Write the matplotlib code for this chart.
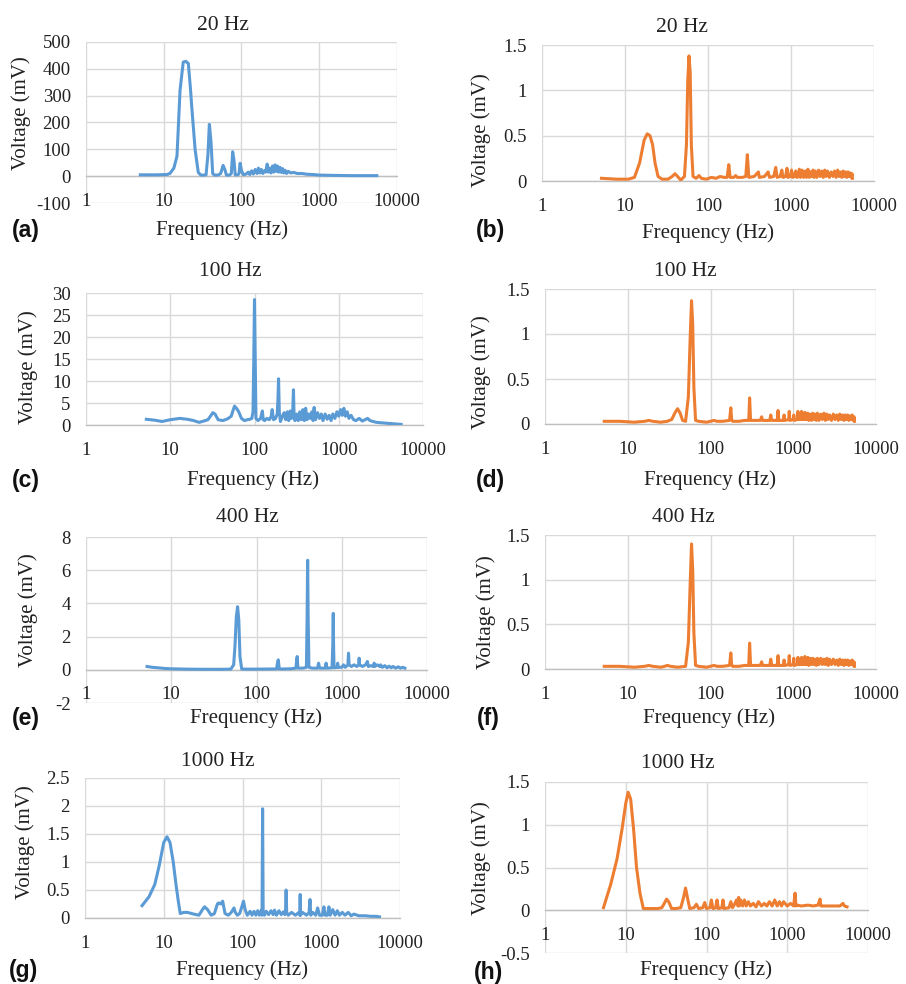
import matplotlib
matplotlib.use("Agg")
import matplotlib.pyplot as plt
from matplotlib.ticker import FuncFormatter, NullLocator

W, H = 906, 984

BLUE = "#5B9BD5"
ORANGE = "#ED7D31"

x_ticks = [1, 10, 100, 1000, 10000]
x_tick_labels = ["1", "10", "100", "1000", "10000"]

# (a) 20 Hz, channel 1
freq_a = [5, 8, 11, 12, 13.5, 14.8, 16.2, 17.8, 19.2, 20.7,
          22, 22.9, 25.3, 27.8, 30, 33, 35, 37, 38.6, 40.5,
          42.6, 45, 50, 54, 58, 61, 64, 70, 74, 77,
          80, 83, 90, 93, 96, 100, 106, 115, 122, 128,
          135, 142, 150, 158, 165, 172, 180, 188, 196, 205,
          214, 222, 230, 240, 250, 260, 270, 280, 290, 300,
          312, 325, 338, 350, 365, 380, 400, 430, 470, 520,
          600, 700, 850, 1000, 1500, 2500, 4000, 5500]
volt_a = [5, 5, 6, 10, 30, 75, 320, 425, 428, 420,
          330, 260, 100, 14, 4, 4, 5, 80, 193, 130,
          10, 4, 4, 10, 40, 25, 4, 4, 10, 91,
          60, 5, 5, 10, 48, 20, 5, 8, 15, 6,
          20, 8, 25, 10, 30, 12, 25, 10, 20, 15,
          45, 15, 30, 12, 38, 15, 42, 18, 38, 15,
          33, 14, 28, 12, 22, 10, 18, 12, 14, 10,
          10, 7, 6, 4, 3, 2, 2, 2]

# (b) 20 Hz, channel 2
freq_b = [5.2, 8, 11, 13, 15, 17, 18.5, 20, 21.5, 23,
          25, 28, 33, 37, 40, 43, 47, 52, 55, 57,
          59, 61, 63, 66, 72, 78, 83, 95, 110, 125,
          140, 155, 170, 178, 185, 205, 215, 225, 260, 285,
          298, 310, 360, 405, 415, 480, 530, 550, 620, 655,
          680, 740, 775, 800, 860, 895, 920, 980, 1015, 1050,
          1100, 1140, 1180, 1230, 1260, 1300, 1360, 1420, 1480, 1540,
          1600, 1660, 1720, 1780, 1840, 1900, 1960, 2050, 2150, 2250,
          2350, 2450, 2550, 2650, 2750, 2900, 3050, 3200, 3350, 3500,
          3650, 3800, 3950, 4100, 4250, 4400, 4550, 4700, 4850, 5000,
          5150, 5300, 5450, 5500]
volt_b = [0.03, 0.02, 0.02, 0.04, 0.2, 0.45, 0.52, 0.5, 0.4, 0.2,
          0.05, 0.02, 0.02, 0.05, 0.08, 0.05, 0.01, 0.05, 0.4, 1.1,
          1.38, 1.2, 0.4, 0.05, 0.03, 0.06, 0.03, 0.02, 0.04, 0.03,
          0.05, 0.04, 0.04, 0.18, 0.04, 0.04, 0.06, 0.04, 0.04, 0.05,
          0.29, 0.04, 0.05, 0.1, 0.04, 0.05, 0.1, 0.04, 0.05, 0.15,
          0.04, 0.05, 0.12, 0.04, 0.05, 0.14, 0.04, 0.05, 0.12, 0.04,
          0.05, 0.11, 0.04, 0.05, 0.13, 0.04, 0.12, 0.04, 0.11, 0.04,
          0.13, 0.04, 0.1, 0.05, 0.12, 0.04, 0.11, 0.04, 0.12, 0.05,
          0.11, 0.04, 0.12, 0.05, 0.11, 0.04, 0.1, 0.05, 0.11, 0.04,
          0.12, 0.05, 0.1, 0.04, 0.11, 0.05, 0.1, 0.04, 0.1, 0.05,
          0.09, 0.04, 0.08, 0.03]

# (c) 100 Hz, channel 1
freq_c = [5.2, 6.5, 8, 10, 13, 16, 19, 22, 25, 28,
          30, 32, 34, 37, 42, 48, 53, 56, 58, 61,
          65, 70, 76, 82, 88, 93, 96, 98, 100, 102,
          104, 110, 118, 124, 127, 132, 140, 150, 158, 162,
          168, 178, 186, 190, 193, 197, 203, 215, 225, 235,
          245, 255, 265, 275, 284, 290, 295, 302, 315, 330,
          345, 360, 375, 390, 405, 420, 440, 460, 480, 495,
          510, 530, 560, 590, 620, 650, 690, 730, 770, 810,
          850, 900, 950, 1000, 1050, 1100, 1150, 1200, 1260, 1320,
          1400, 1500, 1600, 1750, 1900, 2050, 2200, 2350, 2550, 2800,
          3200, 3700, 4300, 5000, 5500]
volt_c = [1.3, 1.1, 0.8, 1.2, 1.5, 1.3, 1.0, 0.6, 0.9, 1.2,
          2.0, 2.8, 2.5, 1.2, 1.0, 1.4, 2.0, 3.5, 4.3, 3.8,
          3.0, 1.5, 1.0, 1.2, 1.3, 1.5, 3.0, 15, 28.5, 15,
          1.5, 1.0, 1.5, 3.2, 1.2, 1.0, 1.5, 1.2, 2.0, 3.5,
          1.2, 1.5, 2.5, 6, 10.5, 3, 0.8, 2.0, 2.8, 1.2,
          3.0, 1.0, 3.2, 1.5, 3.0, 8.0, 2.0, 1.0, 2.5, 1.0,
          3.0, 1.2, 3.5, 1.0, 3.8, 1.2, 2.5, 1.5, 3.0, 1.0,
          4.0, 1.2, 2.8, 1.5, 2.5, 1.0, 2.5, 1.3, 2.2, 1.0,
          2.5, 1.5, 3.0, 2.0, 3.5, 2.2, 3.8, 2.0, 3.0, 1.5,
          2.2, 1.2, 1.0, 1.5, 0.9, 1.2, 1.5, 1.0, 0.8, 0.6,
          0.5, 0.4, 0.3, 0.2, 0.15]

# (d) 100 Hz, channel 2
freq_d = [5.2, 8, 12, 16, 18, 20, 25, 30, 34, 37,
          40, 43, 46, 50, 54, 57, 59, 61, 63, 66,
          72, 90, 110, 120, 140, 170, 176, 180, 185, 220,
          260, 290, 297, 305, 400, 415, 425, 520, 535, 550,
          640, 655, 670, 760, 775, 790, 880, 895, 910, 1000,
          1015, 1030, 1120, 1140, 1160, 1240, 1260, 1280, 1360, 1380,
          1420, 1480, 1500, 1540, 1600, 1660, 1720, 1780, 1840, 1900,
          1960, 2050, 2150, 2250, 2350, 2450, 2550, 2650, 2750, 2900,
          3050, 3200, 3350, 3500, 3650, 3800, 3950, 4100, 4250, 4400,
          4550, 4700, 4850, 5000, 5150, 5300, 5450, 5500]
volt_d = [0.03, 0.03, 0.02, 0.03, 0.04, 0.03, 0.02, 0.03, 0.05, 0.12,
          0.17, 0.12, 0.04, 0.03, 0.3, 1.0, 1.37, 1.1, 0.4, 0.04,
          0.03, 0.02, 0.04, 0.03, 0.03, 0.04, 0.18, 0.05, 0.03, 0.03,
          0.04, 0.04, 0.29, 0.04, 0.04, 0.08, 0.04, 0.04, 0.1, 0.04,
          0.04, 0.15, 0.04, 0.04, 0.1, 0.04, 0.05, 0.14, 0.04, 0.05,
          0.1, 0.04, 0.05, 0.14, 0.05, 0.05, 0.14, 0.05, 0.05, 0.13,
          0.05, 0.05, 0.12, 0.04, 0.11, 0.04, 0.12, 0.05, 0.11, 0.04,
          0.12, 0.04, 0.11, 0.05, 0.12, 0.04, 0.11, 0.05, 0.1, 0.04,
          0.11, 0.05, 0.1, 0.04, 0.11, 0.05, 0.1, 0.04, 0.1, 0.05,
          0.1, 0.04, 0.09, 0.05, 0.1, 0.04, 0.08, 0.03]

# (e) 400 Hz, channel 1
freq_e = [5.2, 6, 7, 8.5, 10, 15, 25, 40, 50, 54,
          56, 58, 60, 62, 64, 67, 75, 100, 150, 172,
          176, 180, 185, 200, 250, 290, 296, 300, 306, 350,
          385, 392, 398, 404, 412, 450, 520, 535, 550, 640,
          655, 670, 770, 785, 795, 802, 812, 880, 895, 910,
          1000, 1050, 1100, 1180, 1200, 1220, 1300, 1400, 1500, 1580,
          1600, 1620, 1750, 1900, 2000, 2050, 2200, 2350, 2400, 2450,
          2600, 2800, 2850, 3000, 3200, 3400, 3600, 3800, 4000, 4300,
          4600, 4900, 5200, 5500]
volt_e = [0.2, 0.15, 0.12, 0.08, 0.06, 0.04, 0.03, 0.03, 0.04, 0.3,
          1.5, 3.2, 3.8, 3.0, 0.8, 0.05, 0.04, 0.04, 0.05, 0.05,
          0.4, 0.6, 0.05, 0.05, 0.06, 0.1, 0.6, 0.8, 0.1, 0.1,
          0.15, 3, 6.6, 3, 0.15, 0.1, 0.1, 0.4, 0.1, 0.1,
          0.4, 0.1, 0.12, 1.5, 3.4, 1.5, 0.12, 0.15, 0.4, 0.15,
          0.15, 0.3, 0.15, 0.3, 1.0, 0.3, 0.2, 0.3, 0.2, 0.3,
          0.7, 0.3, 0.2, 0.3, 0.5, 0.2, 0.25, 0.2, 0.4, 0.2,
          0.3, 0.2, 0.3, 0.15, 0.25, 0.12, 0.22, 0.12, 0.2, 0.1,
          0.18, 0.1, 0.15, 0.1]

# (f) 400 Hz, channel 2
freq_f = [5.2, 8, 12, 16, 18, 20, 25, 28, 30, 33,
          40, 50, 54, 57, 59, 61, 63, 66, 72, 90,
          110, 120, 140, 170, 176, 180, 185, 220, 260, 290,
          297, 305, 400, 415, 425, 520, 535, 550, 640, 655,
          670, 760, 775, 790, 880, 895, 910, 1000, 1015, 1030,
          1120, 1140, 1160, 1240, 1260, 1280, 1360, 1380, 1420, 1480,
          1500, 1540, 1600, 1660, 1720, 1780, 1840, 1900, 1960, 2050,
          2150, 2250, 2350, 2450, 2550, 2650, 2750, 2900, 3050, 3200,
          3350, 3500, 3650, 3800, 3950, 4100, 4250, 4400, 4550, 4700,
          4850, 5000, 5150, 5300, 5450, 5500]
volt_f = [0.03, 0.03, 0.02, 0.03, 0.04, 0.03, 0.02, 0.03, 0.04, 0.03,
          0.02, 0.03, 0.3, 1.0, 1.4, 1.1, 0.4, 0.04, 0.03, 0.02,
          0.04, 0.03, 0.03, 0.04, 0.18, 0.05, 0.03, 0.03, 0.04, 0.04,
          0.29, 0.04, 0.04, 0.08, 0.04, 0.04, 0.11, 0.04, 0.04, 0.15,
          0.04, 0.04, 0.1, 0.04, 0.05, 0.15, 0.04, 0.05, 0.12, 0.04,
          0.05, 0.13, 0.05, 0.05, 0.13, 0.05, 0.05, 0.14, 0.05, 0.05,
          0.13, 0.04, 0.12, 0.05, 0.12, 0.05, 0.11, 0.04, 0.12, 0.05,
          0.12, 0.05, 0.11, 0.05, 0.12, 0.04, 0.11, 0.05, 0.11, 0.05,
          0.1, 0.04, 0.11, 0.05, 0.1, 0.04, 0.1, 0.05, 0.1, 0.04,
          0.09, 0.05, 0.1, 0.04, 0.08, 0.03]

# (g) 1000 Hz, channel 1
freq_g = [5.3, 6.5, 7.7, 8.8, 10, 11, 12, 13.2, 14.3, 15.3,
          16.2, 18, 20, 24, 28, 31, 33, 36, 40, 44,
          48, 50, 53, 56, 60, 66, 72, 78, 81, 86,
          92, 98, 103, 108, 115, 125, 132, 140, 148, 156,
          164, 172, 177, 180, 183, 190, 200, 215, 230, 245,
          255, 270, 290, 310, 330, 345, 352, 358, 364, 380,
          420, 470, 520, 534, 540, 546, 580, 650, 700, 720,
          735, 780, 850, 900, 950, 1030, 1080, 1120, 1200, 1250,
          1300, 1400, 1500, 1600, 1700, 1850, 2000, 2200, 2400, 2600,
          3000, 3600, 4300, 5000, 5500]
volt_g = [0.22, 0.38, 0.6, 0.95, 1.35, 1.45, 1.35, 1.0, 0.6, 0.3,
          0.08, 0.1, 0.1, 0.07, 0.05, 0.15, 0.2, 0.15, 0.05, 0.08,
          0.25, 0.27, 0.25, 0.3, 0.08, 0.05, 0.1, 0.18, 0.1, 0.05,
          0.08, 0.2, 0.3, 0.15, 0.05, 0.12, 0.05, 0.12, 0.05, 0.13,
          0.05, 0.13, 0.05, 1.95, 0.1, 0.05, 0.12, 0.06, 0.13, 0.06,
          0.14, 0.05, 0.13, 0.06, 0.11, 0.06, 0.12, 0.5, 0.1, 0.05,
          0.1, 0.05, 0.1, 0.05, 0.42, 0.05, 0.1, 0.05, 0.1, 0.33,
          0.05, 0.1, 0.05, 0.18, 0.05, 0.05, 0.2, 0.05, 0.05, 0.2,
          0.05, 0.15, 0.05, 0.13, 0.05, 0.1, 0.05, 0.1, 0.04, 0.07,
          0.04, 0.04, 0.03, 0.03, 0.02]

# (h) 1000 Hz, channel 2
freq_h = [5.3, 6.5, 7.8, 9, 10, 10.7, 11.5, 12.5, 13.6, 15,
          16.5, 20, 25, 28, 30, 32, 34, 37, 42, 48,
          52, 55, 58, 62, 70, 75, 80, 90, 95, 100,
          110, 115, 120, 130, 135, 140, 155, 160, 165, 190,
          200, 210, 220, 235, 245, 250, 255, 265, 280, 295,
          310, 330, 350, 380, 410, 440, 480, 520, 560, 600,
          650, 700, 750, 800, 850, 900, 1000, 1100, 1200, 1250,
          1280, 1320, 1500, 1800, 2100, 2400, 2550, 2600, 2650, 3000,
          3500, 4000, 4500, 4900, 5100, 5500]
volt_h = [0.03, 0.3, 0.6, 0.95, 1.25, 1.38, 1.3, 0.95, 0.5, 0.2,
          0.02, 0.02, 0.02, 0.03, 0.08, 0.13, 0.1, 0.02, 0.02, 0.03,
          0.15, 0.26, 0.15, 0.02, 0.03, 0.07, 0.02, 0.03, 0.09, 0.02,
          0.03, 0.12, 0.02, 0.03, 0.12, 0.02, 0.03, 0.12, 0.02, 0.03,
          0.1, 0.03, 0.06, 0.12, 0.05, 0.15, 0.05, 0.12, 0.05, 0.12,
          0.05, 0.1, 0.05, 0.08, 0.04, 0.1, 0.05, 0.08, 0.05, 0.1,
          0.05, 0.12, 0.05, 0.1, 0.05, 0.1, 0.05, 0.08, 0.05, 0.2,
          0.05, 0.06, 0.05, 0.06, 0.05, 0.06, 0.13, 0.05, 0.05, 0.05,
          0.05, 0.05, 0.05, 0.08, 0.05, 0.04]

titles = ["20 Hz", "20 Hz", "100 Hz", "100 Hz", "400 Hz", "400 Hz", "1000 Hz", "1000 Hz"]
letters = ["(a)", "(b)", "(c)", "(d)", "(e)", "(f)", "(g)", "(h)"]
series = [(freq_a, volt_a), (freq_b, volt_b), (freq_c, volt_c), (freq_d, volt_d),
          (freq_e, volt_e), (freq_f, volt_f), (freq_g, volt_g), (freq_h, volt_h)]
y_ticks = [[-100, 0, 100, 200, 300, 400, 500],
           [0, 0.5, 1, 1.5],
           [0, 5, 10, 15, 20, 25, 30],
           [0, 0.5, 1, 1.5],
           [-2, 0, 2, 4, 6, 8],
           [0, 0.5, 1, 1.5],
           [0, 0.5, 1, 1.5, 2, 2.5],
           [-0.5, 0, 0.5, 1, 1.5]]

# layout in pixels: plot box (left, top, right, bottom), title, ylabel, xlabel, letter
layout = [
    dict(box=(86, 42, 397, 203), title=(223, 25), ylab=(21, 113), xlab=(222, 230), let=(12, 230)),
    dict(box=(542, 45, 874, 181), title=(682, 28), ylab=(481, 130), xlab=(708, 233), let=(476, 230)),
    dict(box=(86, 293, 423, 425), title=(230, 272), ylab=(28, 367), xlab=(253, 480), let=(12, 480)),
    dict(box=(545, 289, 876, 424), title=(685, 272), ylab=(481, 372), xlab=(710, 480), let=(476, 480)),
    dict(box=(86, 537, 427, 703), title=(247, 517), ylab=(28, 610), xlab=(256, 718), let=(12, 718)),
    dict(box=(545, 535, 876, 669), title=(683, 517), ylab=(486, 612), xlab=(709, 718), let=(477, 718)),
    dict(box=(85, 778, 400, 918), title=(218, 762), ylab=(25, 842), xlab=(242, 970), let=(9, 970)),
    dict(box=(545, 782, 868, 953), title=(678, 763), ylab=(481, 858), xlab=(706, 970), let=(474, 972)),
]
colors = [BLUE, ORANGE] * 4

SERIF = ["Liberation Serif", "DejaVu Serif"]


def fx(x):
    return x / W


def fy(y):
    return 1 - y / H


fig = plt.figure(figsize=(W / 100, H / 100), dpi=100)

for i, (f, v) in enumerate(series):
    lay = layout[i]
    l, t, r, b = lay["box"]
    ax = fig.add_axes([fx(l), fy(b), (r - l) / W, (b - t) / H])
    ax.plot(f, v, color=colors[i], lw=2.2, zorder=3, solid_joinstyle="round")
    ax.set_xscale("log")
    ax.set_xlim(1, 10000)
    ax.set_ylim(y_ticks[i][0], y_ticks[i][-1])
    ax.set_xticks(x_ticks)
    ax.set_xticklabels(x_tick_labels)
    ax.xaxis.set_minor_locator(NullLocator())
    ax.set_yticks(y_ticks[i])
    ax.yaxis.set_major_formatter(FuncFormatter(lambda val, _: f"{val:g}"))
    ax.grid(True, color="#d9d9d9", lw=1.0, zorder=0)
    for s in ["top", "right", "left"]:
        ax.spines[s].set_visible(False)
    ax.spines["bottom"].set_position(("data", 0))
    ax.spines["bottom"].set_color("#bfbfbf")
    ax.spines["bottom"].set_linewidth(1.0)
    ax.tick_params(length=0, labelsize=13.5, labelcolor="#222222")
    ax.tick_params(axis="x", pad=12)
    ax.tick_params(axis="y", pad=11)
    for lbl in ax.get_xticklabels() + ax.get_yticklabels():
        lbl.set_fontfamily(SERIF)

    fig.text(fx(lay["title"][0]), fy(lay["title"][1]), titles[i], ha="center", va="center",
             fontsize=15.5, family=SERIF, color="#222222")
    fig.text(fx(lay["ylab"][0]), fy(lay["ylab"][1]), "Voltage (mV)", ha="center", va="center",
             rotation=90, fontsize=15, family=SERIF, color="#222222")
    fig.text(fx(lay["xlab"][0]), fy(lay["xlab"][1]), "Frequency (Hz)", ha="center", va="center",
             fontsize=15, family=SERIF, color="#222222")
    fig.text(fx(lay["let"][0]), fy(lay["let"][1]), letters[i], ha="left", va="center",
             fontsize=16.5, family=["Liberation Sans", "DejaVu Sans"], weight="bold", color="#111111")

fig.savefig("out.png", dpi=100)
